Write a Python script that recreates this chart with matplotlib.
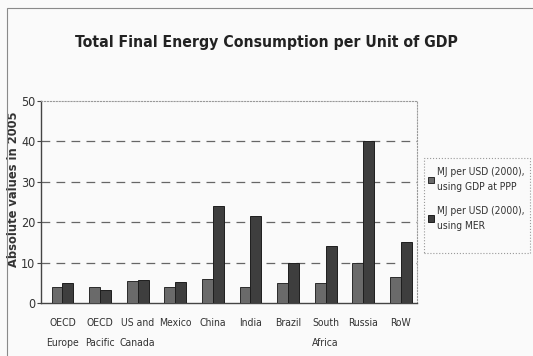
import matplotlib.pyplot as plt
import numpy as np
from matplotlib.patches import Rectangle

regions = ['OECD\nEurope', 'OECD\nPacific', 'US and\nCanada', 'Mexico', 'China',
           'India', 'Brazil', 'South\nAfrica', 'Russia', 'RoW']
ppp = [4, 4, 5.5, 4, 6, 4, 5, 5, 10, 6.5]
mer = [5, 3.3, 5.7, 5.3, 24, 21.5, 10, 14, 40, 15]
labels = ['MJ per USD (2000),\nusing GDP at PPP', 'MJ per USD (2000),\nusing MER']

narrow = dict(family='DejaVu Sans', stretch='condensed')

fig = plt.figure(figsize=(5.33, 3.56), dpi=100, facecolor='#fafafa')
fig.patches.append(Rectangle((7/533, -0.01), 1.0, 1 - 8/356 + 0.01, transform=fig.transFigure,
                             fill=False, edgecolor='#8a8a8a', linewidth=0.8))
ax = fig.add_axes([41/533, 1 - 303/356, (417 - 41)/533, (303 - 101)/356])
ax.set_facecolor('#fafafa')

x = np.arange(len(regions))
w = 0.29
ax.bar(x - w/2 + 0.07, ppp, w, color='#6a6a6a', edgecolor='#2a2a2a', linewidth=0.7, label=labels[0], zorder=3)
ax.bar(x + w/2 + 0.07, mer, w, color='#3e3e3e', edgecolor='#1e1e1e', linewidth=0.7, label=labels[1], zorder=3)

ax.set_xlim(-0.5, len(regions) - 0.5)
ax.set_ylim(0, 50)
ax.set_yticks([0, 10, 20, 30, 40, 50])
ax.set_yticklabels(['0', '10', '20', '30', '40', '50'], fontsize=9, color='#333333', **narrow)
ax.set_xticks(x + 0.07)
ax.set_xticklabels(regions, fontsize=7.5, color='#333333', linespacing=2.2, **narrow)
ax.tick_params(axis='x', length=0, pad=11)
ax.tick_params(axis='y', length=3, width=0.8, color='#444444', pad=1)
for yv in [10, 20, 30, 40]:
    ax.axhline(yv, color='#666666', linewidth=0.9, dashes=(7, 5), zorder=1)

for s in ['top', 'right']:
    ax.spines[s].set_color('#999999')
    ax.spines[s].set_linestyle(':')
    ax.spines[s].set_linewidth(0.8)
for s in ['left', 'bottom']:
    ax.spines[s].set_color('#444444')
    ax.spines[s].set_linewidth(1.0)

ax.set_ylabel('Absolute values in 2005', fontsize=8.3, color='#333333', fontweight='bold')
ax.yaxis.set_label_coords(-0.056, 0.565)

fig.text(0.50, 0.882, 'Total Final Energy Consumption per Unit of GDP', ha='center', va='center',
         fontsize=11.3, color='#222222', fontweight='bold', **narrow)

# legend box drawn separately so the text can sit inside a narrow frame
fig.patches.append(Rectangle((424/533, 1 - 253/356), 106/533, 95/356, transform=fig.transFigure,
                             facecolor='#fafafa', edgecolor='#999999', linestyle=':', linewidth=0.8))
leg = fig.legend(loc='upper left', bbox_to_anchor=(428/533, 1 - 167/356),
                 prop={'family': 'DejaVu Sans', 'stretch': 'condensed', 'size': 7.4},
                 frameon=False, handlelength=0.55, handleheight=0.55,
                 handletextpad=0.3, borderpad=0, labelspacing=1.3, borderaxespad=0)
for t in leg.get_texts():
    t.set_linespacing(1.65)
    t.set_color('#333333')

fig.savefig('out.png', dpi=100, facecolor=fig.get_facecolor())
